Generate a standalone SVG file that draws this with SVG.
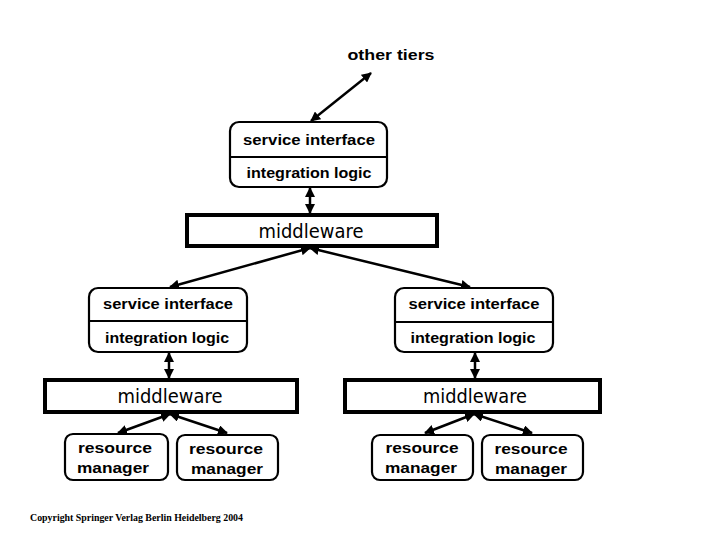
<svg xmlns="http://www.w3.org/2000/svg" width="720" height="540" viewBox="0 0 720 540">
<style>
.lbl{font-family:"Liberation Sans","DejaVu Sans",sans-serif;font-weight:bold;font-size:15px;fill:#000;text-anchor:middle}
.mw{font-family:"DejaVu Sans","Liberation Sans",sans-serif;font-size:19px;fill:#000;text-anchor:middle}
.box{fill:#fff;stroke:#000;stroke-width:2.2}
.mwbox{fill:#fff;stroke:#000;stroke-width:4}
.div{stroke:#000;stroke-width:2}
.con{stroke:#000;stroke-width:2.5;fill:none;marker-start:url(#ah);marker-end:url(#ah)}
.copy{font-family:"Liberation Serif","Times New Roman",serif;font-weight:bold;font-size:10px;fill:#000}
</style>
<defs>
<marker id="ah" viewBox="0 0 10 10" refX="9" refY="5" markerWidth="4" markerHeight="4" orient="auto-start-reverse" markerUnits="strokeWidth">
<path d="M0,0 L10,5 L0,10 z" fill="#000"/>
</marker>
</defs>
<rect width="720" height="540" fill="#fff"/>
<g id="connectors">
<line class="con" x1="311" y1="121" x2="371" y2="73"/>
<line class="con" x1="310" y1="188" x2="310" y2="213"/>
<line class="con" x1="310" y1="248" x2="170" y2="287"/>
<line class="con" x1="310" y1="248" x2="470" y2="287"/>
<line class="con" x1="169" y1="353" x2="169" y2="378"/>
<line class="con" x1="475" y1="353" x2="475" y2="378"/>
<line class="con" x1="170" y1="414" x2="118" y2="433"/>
<line class="con" x1="170" y1="414" x2="227" y2="433"/>
<line class="con" x1="474" y1="414" x2="425" y2="433"/>
<line class="con" x1="474" y1="414" x2="532" y2="433"/>
</g>
<g id="other-tiers">
<text class="lbl" x="391" y="60" textLength="87" lengthAdjust="spacingAndGlyphs">other tiers</text>
</g>
<g id="top-service">
<rect class="box" x="230" y="122" width="157" height="65" rx="9"/>
<line class="div" x1="230" y1="157" x2="387" y2="157"/>
<text class="lbl" x="309" y="145" textLength="132" lengthAdjust="spacingAndGlyphs">service interface</text>
<text class="lbl" x="309" y="178" textLength="125" lengthAdjust="spacingAndGlyphs">integration logic</text>
</g>
<g id="top-middleware">
<rect class="mwbox" x="187" y="215" width="250" height="31"/>
<text class="mw" x="311" y="238" textLength="105" lengthAdjust="spacingAndGlyphs">middleware</text>
</g>
<g id="left-service">
<rect class="box" x="89" y="288" width="158" height="64" rx="9"/>
<line class="div" x1="89" y1="321" x2="247" y2="321"/>
<text class="lbl" x="168" y="309" textLength="130" lengthAdjust="spacingAndGlyphs">service interface</text>
<text class="lbl" x="167" y="343" textLength="124" lengthAdjust="spacingAndGlyphs">integration logic</text>
</g>
<g id="right-service">
<rect class="box" x="395" y="288" width="158" height="64" rx="9"/>
<line class="div" x1="395" y1="322" x2="553" y2="322"/>
<text class="lbl" x="474" y="309" textLength="131" lengthAdjust="spacingAndGlyphs">service interface</text>
<text class="lbl" x="473" y="343" textLength="125" lengthAdjust="spacingAndGlyphs">integration logic</text>
</g>
<g id="left-middleware">
<rect class="mwbox" x="45" y="380" width="252" height="32"/>
<text class="mw" x="170" y="403" textLength="105" lengthAdjust="spacingAndGlyphs">middleware</text>
</g>
<g id="right-middleware">
<rect class="mwbox" x="345" y="380" width="255" height="32"/>
<text class="mw" x="475" y="403" textLength="104" lengthAdjust="spacingAndGlyphs">middleware</text>
</g>
<g id="rm1">
<rect class="box" x="65" y="434" width="103" height="46" rx="8"/>
<text class="lbl" x="115" y="453" textLength="74" lengthAdjust="spacingAndGlyphs">resource</text>
<text class="lbl" x="113" y="473" textLength="72" lengthAdjust="spacingAndGlyphs">manager</text>
</g>
<g id="rm2">
<rect class="box" x="177" y="435" width="101" height="45" rx="8"/>
<text class="lbl" x="226" y="454" textLength="74" lengthAdjust="spacingAndGlyphs">resource</text>
<text class="lbl" x="227" y="474" textLength="72" lengthAdjust="spacingAndGlyphs">manager</text>
</g>
<g id="rm3">
<rect class="box" x="372" y="435" width="101" height="45" rx="8"/>
<text class="lbl" x="422" y="453" textLength="73" lengthAdjust="spacingAndGlyphs">resource</text>
<text class="lbl" x="421" y="473" textLength="72" lengthAdjust="spacingAndGlyphs">manager</text>
</g>
<g id="rm4">
<rect class="box" x="482" y="435" width="101" height="45" rx="8"/>
<text class="lbl" x="531" y="454" textLength="73" lengthAdjust="spacingAndGlyphs">resource</text>
<text class="lbl" x="531" y="474" textLength="72" lengthAdjust="spacingAndGlyphs">manager</text>
</g>
<g id="copyright">
<text class="copy" x="30" y="521" textLength="213" lengthAdjust="spacingAndGlyphs">Copyright Springer Verlag Berlin Heidelberg 2004</text>
</g>
</svg>
